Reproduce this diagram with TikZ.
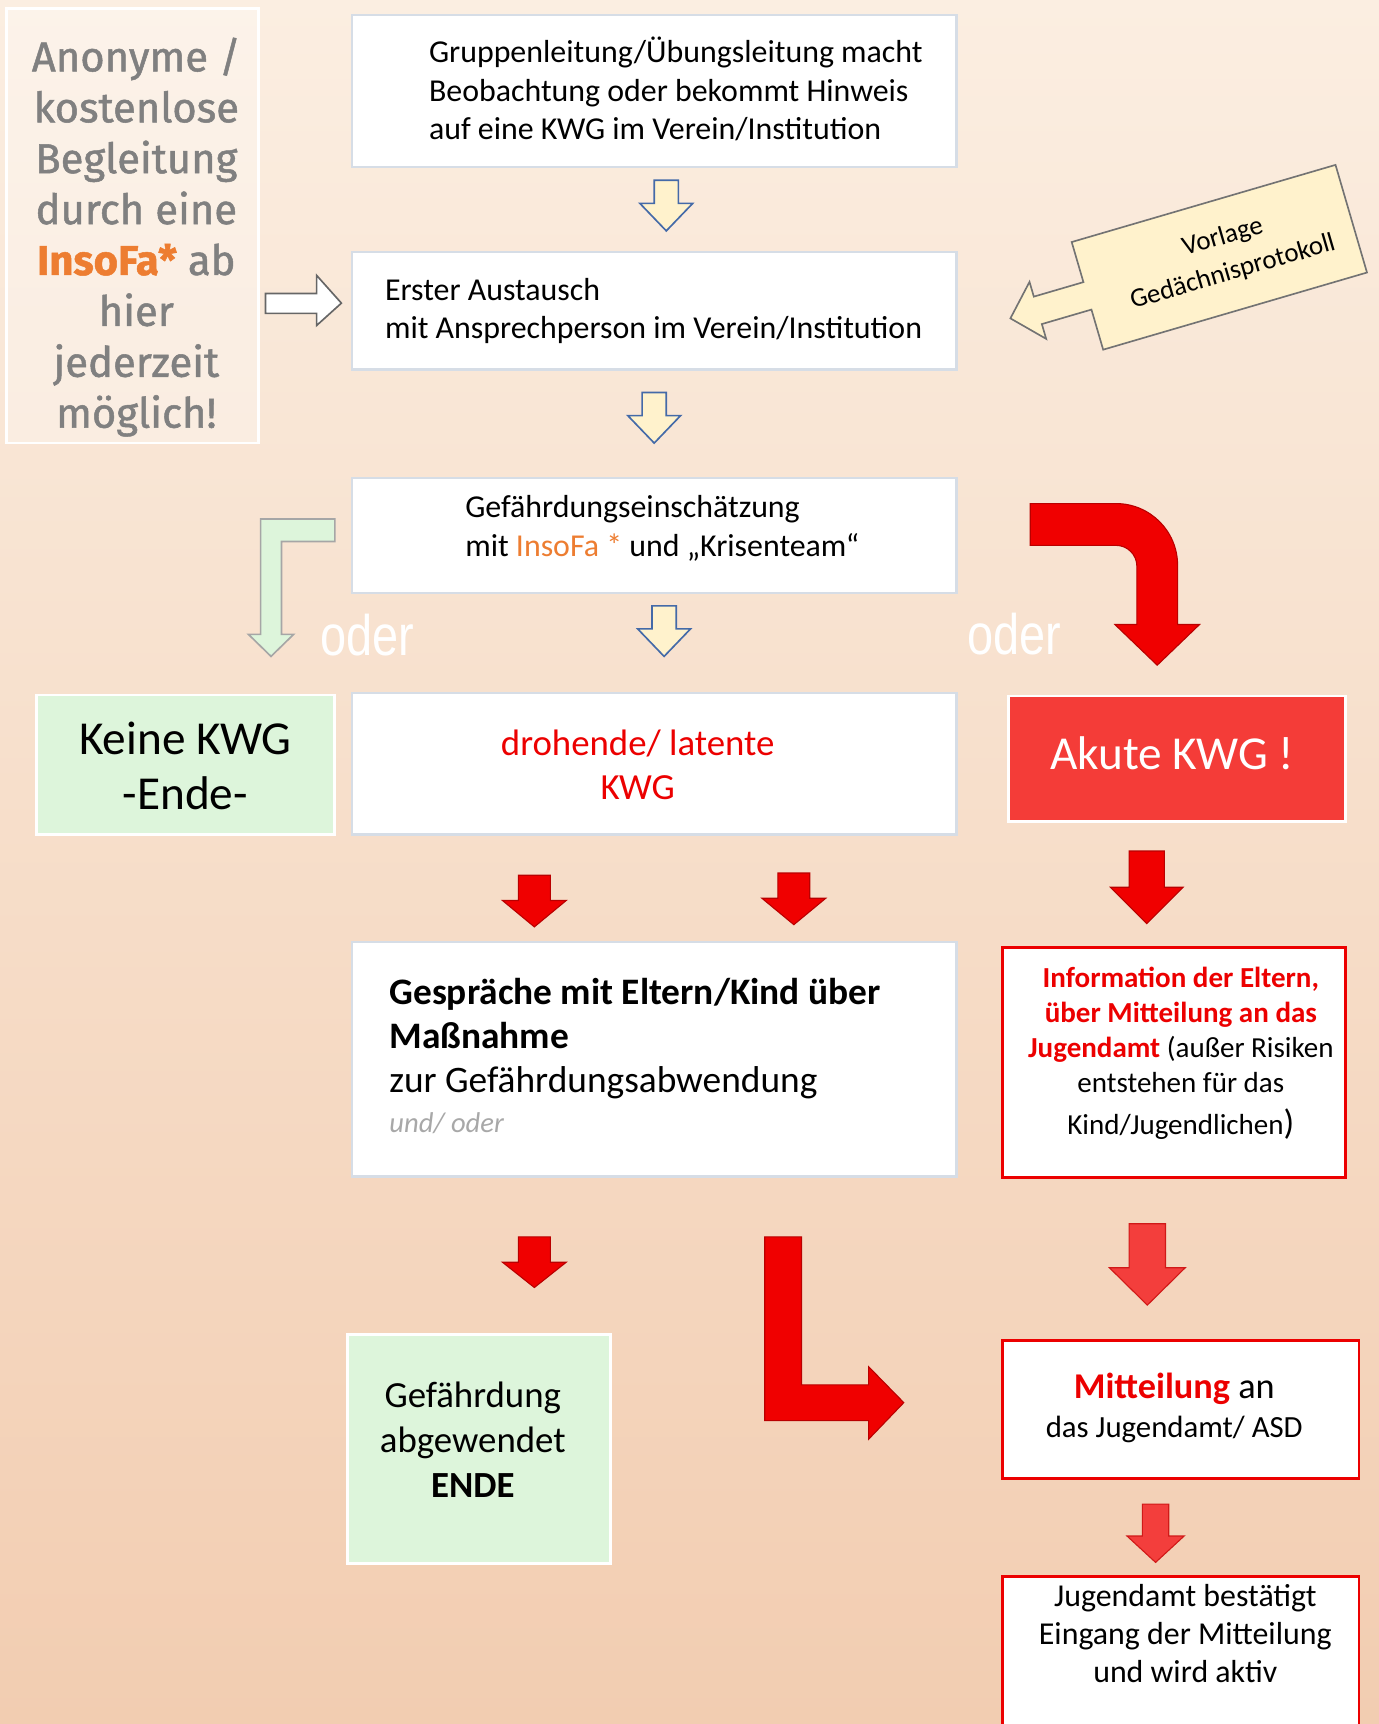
\documentclass[tikz,border=0pt]{standalone}
\usepackage{fontspec}
\setmainfont{Carlito}
\newfontfamily\dinfont{Fira Sans}[FakeBold=1.2]
\newfontfamily\oderfont{Liberation Sans}
\usetikzlibrary{positioning}

\definecolor{bgtop}{RGB}{251,238,225}
\definecolor{bgbot}{RGB}{242,205,177}
\definecolor{boxline}{RGB}{214,221,230}
\definecolor{softgreen}{RGB}{221,245,219}
\definecolor{insorange}{RGB}{237,125,49}
\definecolor{anongray}{RGB}{128,128,128}
\definecolor{akutred}{RGB}{244,60,56}
\definecolor{kwgred}{RGB}{236,0,0}
\definecolor{arrowred}{RGB}{240,0,0}
\definecolor{arrowdark}{RGB}{185,0,0}
\definecolor{arrowlight}{RGB}{243,62,60}
\definecolor{hollowfill}{RGB}{255,242,204}
\definecolor{hollowline}{RGB}{68,106,168}
\definecolor{undgray}{RGB}{168,168,168}

\tikzset{
  wbox/.style={draw=boxline, line width=2pt, fill=white, inner sep=0pt},
  gbox/.style={draw=white, line width=2.5pt, fill=softgreen, inner sep=0pt},
  rbox/.style={draw=kwgred, line width=2.5pt, fill=white, inner sep=0pt},
  hollow/.style={draw=hollowline, line width=1.5pt, fill=hollowfill},
  redarrow/.style={draw=arrowdark, line width=1pt, fill=arrowred},
  lightarrow/.style={draw=arrowdark!60!arrowlight, line width=1pt, fill=arrowlight},
  txt/.style={font=\fontsize{29}{35}\selectfont, inner sep=0pt},
  odertxt/.style={font=\oderfont\fontsize{52}{52}\selectfont, text=white, inner sep=0pt}
}

% down block arrow: style, x, top, head base, tip, shaft half, head half
\newcommand{\downblock}[7]{%
  \draw[#1] (#2-#6,#3) -- (#2+#6,#3) -- (#2+#6,#4) -- (#2+#7,#4) -- (#2,#5)
    -- (#2-#7,#4) -- (#2-#6,#4) -- cycle;}

\begin{document}
\begin{tikzpicture}[x=1pt,y=-1pt]

\useasboundingbox (0,0) rectangle (1254,1568);
\fill[top color=bgtop, bottom color=bgbot] (0,0) rectangle (1254,1568);

% boxes
\node[draw=white, line width=2.5pt, fill=white, fill opacity=0.3, minimum width=229pt, minimum height=395pt] (anon) at (120.5,205.5) {};
\node[wbox, minimum width=550pt, minimum height=138pt] (gruppe) at (595,83) {};
\node[wbox, minimum width=550pt, minimum height=107pt] (austausch) at (595,282.5) {};
\node[wbox, minimum width=550pt, minimum height=104pt] (einsch) at (595,487) {};
\node[gbox, minimum width=271pt, minimum height=127pt] (keine) at (168.5,695.5) {};
\node[wbox, minimum width=550pt, minimum height=129pt] (drohend) at (595,694.5) {};
\node[draw=white, line width=2.5pt, fill=akutred, minimum width=307pt, minimum height=114pt] (akut) at (1070.5,690) {};
\node[wbox, minimum width=550pt, minimum height=213pt] (gespraech) at (595,963.5) {};
\node[rbox, minimum width=312pt, minimum height=209pt] (info) at (1068,966.5) {};
\node[gbox, minimum width=239pt, minimum height=208pt] (abgewendet) at (435.5,1318) {};
\node[rbox, minimum width=324pt, minimum height=126pt] (mitteilung) at (1074,1282) {};
\node[rbox, minimum width=324pt, minimum height=170pt] (bestaetigt) at (1074,1519) {};

% texts (base = last line)
\node[inner sep=0pt, anchor=base, align=center, text=anongray, font=\dinfont\fontsize{38}{46.3}\selectfont] (anon-t) at (124,389)
  {Anonyme /\\kostenlose\\Begleitung\\durch eine\\{\bfseries\color{insorange}InsoFa*} ab\\hier\\jederzeit\\möglich!};
\node[txt, anchor=base west, align=left] (gruppe-t) at (390,127)
  {Gruppenleitung/Übungsleitung macht\\Beobachtung oder bekommt Hinweis\\auf eine KWG im Verein/Institution};
\node[txt, anchor=base west, align=left] (austausch-t) at (350,308)
  {Erster Austausch\\mit Ansprechperson im Verein/Institution};
\node[txt, anchor=base west, align=left] (einsch-t) at (423,506)
  {Gefährdungseinschätzung\\mit {\color{insorange}InsoFa *} und „Krisenteam“};
\node[txt, anchor=base, align=center, font=\fontsize{43}{50}\selectfont] (keine-t) at (168.5,736) {Keine KWG\\-Ende-};
\node[txt, anchor=base, align=center, text=kwgred, font=\fontsize{33.5}{40}\selectfont] (drohend-t) at (580,727) {drohende/ latente\\KWG};
\node[txt, anchor=base, text=white, font=\fontsize{43}{50}\selectfont] (akut-t) at (1066,700) {Akute KWG !};
\node[txt, anchor=base west, align=left, font=\fontsize{34}{40}\selectfont] (gespraech-t) at (354,1030)
  {\textbf{Gespräche mit Eltern/Kind über}\\\textbf{Maßnahme}\\zur Gefährdungsabwendung\\[-4pt]{\fontsize{26}{30}\selectfont\itshape\color{undgray}und/ oder}};
\node[txt, anchor=base, align=center, font=\fontsize{26.4}{32}\selectfont] (info-t) at (1074,1032)
  {{\bfseries\color{kwgred}Information der Eltern,}\\{\bfseries\color{kwgred}über Mitteilung an das}\\{\bfseries\color{kwgred}Jugendamt} (außer Risiken\\entstehen für das\\[6pt]Kind/Jugendlichen{\fontsize{32}{32}\selectfont)}};
\node[txt, anchor=base, align=center, font=\fontsize{33.5}{41}\selectfont] (abgewendet-t) at (430,1362)
  {Gefährdung\\abgewendet\\\textbf{ENDE}};
\node[txt, anchor=base, align=center, font=\fontsize{33}{35}\selectfont] (mitteilung-t) at (1068,1307)
  {{\bfseries\color{kwgred}Mitteilung} an\\{\fontsize{28}{35}\selectfont das Jugendamt/ ASD}};
\node[txt, anchor=base, align=center, font=\fontsize{29}{34.5}\selectfont] (bestaetigt-t) at (1078,1530)
  {Jugendamt bestätigt\\Eingang der Mitteilung\\und wird aktiv};
\node[odertxt, anchor=base west] (oder-l) at (291,596) {\scalebox{0.82}[1]{oder}};
\node[odertxt, anchor=base west] (oder-r) at (880,595) {\scalebox{0.82}[1]{oder}};

% hollow arrows
\draw[draw=black!60, line width=1.5pt, fill=white] (241.5,267) -- (288,267) -- (288,250.5) -- (310.5,275.7)
  -- (288,296) -- (288,285) -- (241.5,285) -- cycle;
\downblock{hollow}{606}{164}{185}{210}{11}{24}
\downblock{hollow}{595}{357}{378}{403}{11}{24}
\downblock{hollow}{604}{551}{572}{597}{11}{24}

% Vorlage note
\begin{scope}[shift={(1109,234)}, rotate=16.3]
\draw[draw=black!55, line width=1.5pt, fill=hollowfill] (-125,-51) -- (125,-51) -- (125,51) -- (-125,51)
  -- (-125,13) -- (-172,13) -- (-172,27) -- (-198,0) -- (-172,-27) -- (-172,-13) -- (-125,-13) -- cycle;
\node[transform shape, align=center, inner sep=0pt, font=\fontsize{24.5}{33}\selectfont] (vorlage) at (8,0)
  {Vorlage\\Gedächnisprotokoll};
\end{scope}

% bent arrows
\draw[draw=black!35, line width=1.5pt, fill=softgreen] (304.6,472) -- (237,472) -- (237,577) -- (226,577)
  -- (246.5,597) -- (267,577) -- (256,577) -- (256,492.5) -- (304.6,492.5) -- cycle;
\draw[redarrow] (937,458) -- (1015,458) arc[start angle=-90, end angle=0, radius=56] -- (1071,568)
  -- (1091,568) -- (1052.5,605) -- (1014,568) -- (1034,568) -- (1034,515)
  arc[start angle=0, end angle=-90, radius=19] -- (937,496) -- cycle;
\draw[redarrow] (695.5,1125) -- (729,1125) -- (729,1259.5) -- (790,1259.5) -- (790,1243) -- (822,1275.7)
  -- (790,1309) -- (790,1292) -- (695.5,1292) -- cycle;

% red arrows
\foreach \cx/\ytop/\ybase/\ytip in {486/796/819/843, 722/794/817/841, 486/1125/1148/1171}
  {\downblock{redarrow}{\cx}{\ytop}{\ybase}{\ytip}{14.5}{29}}
\downblock{redarrow}{1043}{774}{807}{840}{16}{33}
\downblock{lightarrow}{1043.5}{1113}{1153}{1187}{16.5}{34.5}
\downblock{lightarrow}{1051}{1368}{1397}{1421}{12}{26}

\end{tikzpicture}
\end{document}
